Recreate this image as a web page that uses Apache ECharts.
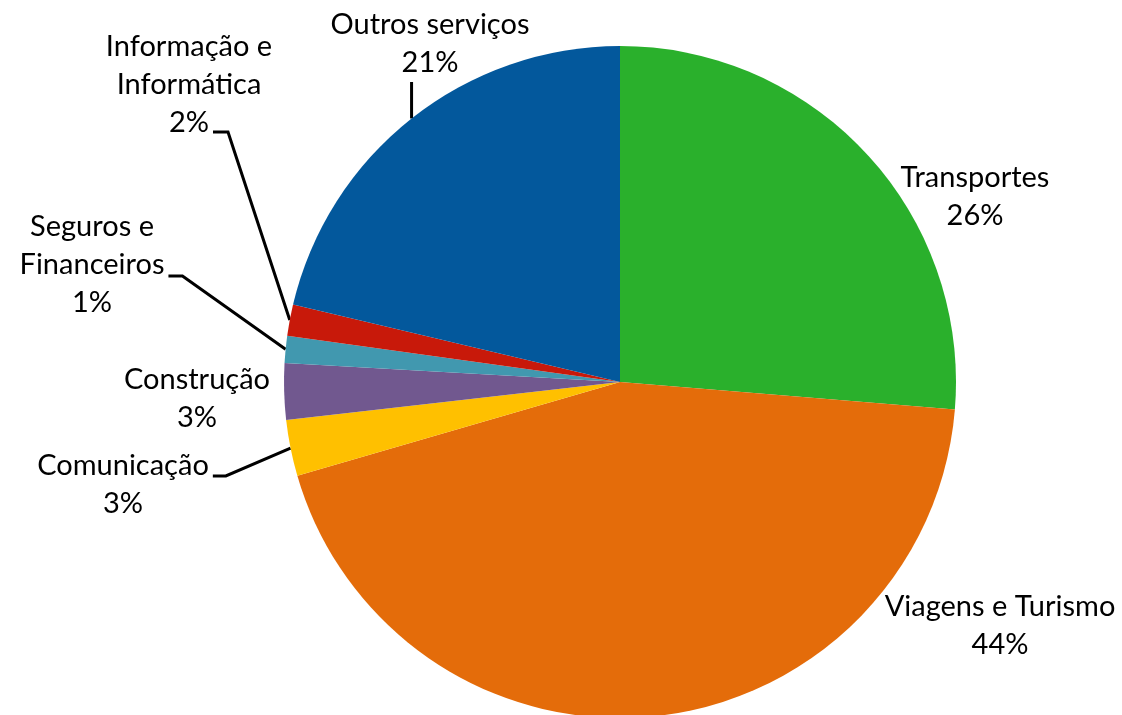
<!DOCTYPE html>
<html>
<head>
<meta charset="utf-8">
<script src="https://cdn.jsdelivr.net/npm/echarts@6/dist/echarts.min.js"></script>
<style>
  html, body { margin: 0; padding: 0; background: #ffffff; }
  #chart { width: 1122px; height: 715px; }
</style>
</head>
<body>
<div id="chart"></div>
<script>
// ---- data ----
const categories = ['Transportes', 'Viagens e Turismo', 'Comunicação', 'Construção', 'Seguros e Financeiros', 'Informação e Informática', 'Outros serviços'];
const labelNames = ['Transportes', 'Viagens e Turismo', 'Comunicação', 'Construção', 'Seguros e\nFinanceiros', 'Informação e\nInformática', 'Outros serviços'];
const values = [26.3, 44.2, 2.7, 2.7, 1.3, 1.5, 21.3];

// ---- styles / layout ----
const colors = ['#2AB02C', '#E46C0A', '#FFC000', '#71588F', '#4198AF', '#C8190A', '#03589C'];
const labelPos = [[975, 197], [1000, 626], [123, 485], [197, 399], [92, 265], [189, 85], [430, 44]];
// leader line end relative to label: edge => from right edge of rect
const leaders = [null, null,
  { edge: true, dx: 4, dy: -9, bend: 13 },
  null,
  { edge: true, dx: 4, dy: 11, bend: 14 },
  { edge: false, dx: 24, dy: 47, bend: 15 },
  { vertical: true, dy: 38 }];

const chart = echarts.init(document.getElementById('chart'), null, { renderer: 'canvas' });

const data = categories.map((c, i) => ({
  name: c,
  value: values[i],
  itemStyle: { color: colors[i] },
  labelLine: { show: !!leaders[i] }
}));

chart.setOption({
  animation: false,
  backgroundColor: '#ffffff',
  series: [{
    type: 'pie',
    center: [620, 382],
    radius: 336,
    startAngle: 90,
    clockwise: true,
    avoidLabelOverlap: false,
    data: data,
    itemStyle: { borderWidth: 0 },
    emphasis: { disabled: true },
    label: {
      show: true,
      position: 'outside',
      color: '#000000',
      fontFamily: 'Lato',
      fontSize: 29,
      lineHeight: 38,
      formatter: function (p) {
        return labelNames[p.dataIndex] + '\n' + Math.round(p.percent) + '%';
      }
    },
    labelLine: {
      show: true,
      length: 10,
      length2: 10,
      smooth: false,
      lineStyle: { color: '#000000', width: 3 }
    },
    labelLayout: function (p) {
      const i = p.dataIndex;
      const cx = labelPos[i][0], cy = labelPos[i][1];
      const w = p.labelRect.width;
      const out = { x: cx, y: cy, align: 'center', verticalAlign: 'middle' };
      const ld = leaders[i];
      if (ld && p.labelLinePoints) {
        const p0 = p.labelLinePoints[0];
        if (ld.vertical) {
          out.labelLinePoints = [[p0[0], p0[1]], [p0[0], cy + ld.dy], [p0[0], cy + ld.dy]];
        } else {
          const ex = ld.edge ? cx + w / 2 + ld.dx : cx + ld.dx;
          const ey = cy + ld.dy;
          out.labelLinePoints = [[p0[0], p0[1]], [ex + ld.bend, ey], [ex, ey]];
        }
      }
      return out;
    }
  }]
});
</script>
</body>
</html>
